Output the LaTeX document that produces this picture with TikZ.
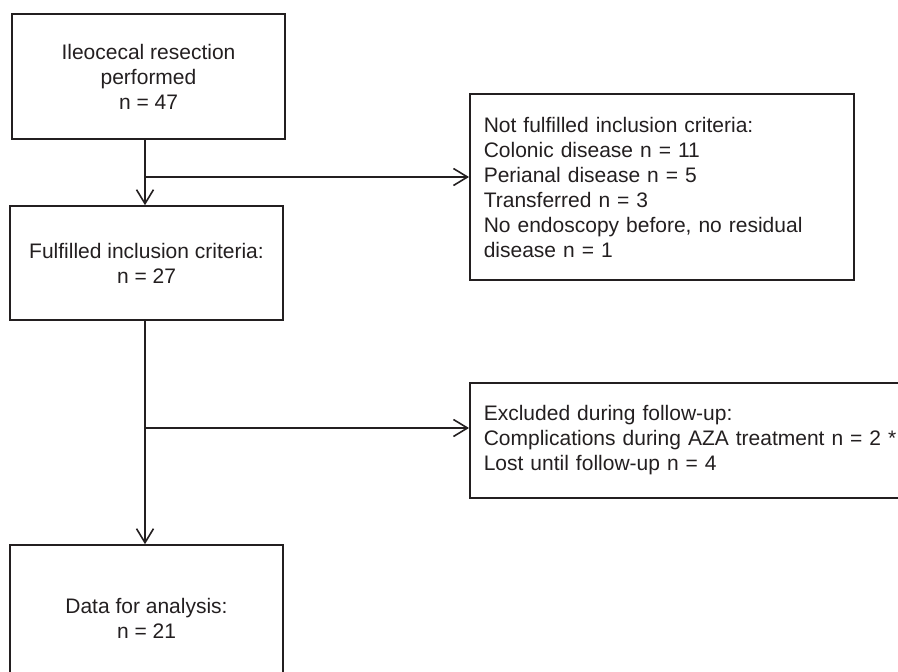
\documentclass[tikz,border=0pt]{standalone}
\usepackage{fontspec}
\setmainfont{Liberation Sans}
\usetikzlibrary{arrows.meta}
\definecolor{ink}{HTML}{231F20}
\begin{document}
\begin{tikzpicture}[x=1pt,y=-1pt,
  box/.style={draw=ink, line width=1.6pt, text=ink, font=\fontsize{21}{25}\selectfont, inner sep=0pt, align=center},
  lbox/.style={draw=ink, line width=1.6pt, text=ink, font=\fontsize{21}{25}\selectfont, inner ysep=0pt, inner xsep=14pt, align=left, anchor=west},
  arr/.style={draw=ink, line width=1.6pt, -{Straight Barb[length=14pt,width=17pt,line width=1.6pt]}},
  ln/.style={draw=ink, line width=1.6pt}]
\useasboundingbox (0,0) rectangle (898,672);
\clip (0,0) rectangle (898,672);
\node[box, minimum width=273pt, minimum height=125pt] (b1) at (148.5,76.5) {Ileocecal resection\\performed\\n = 47};
\node[lbox, text width=356pt, minimum height=186pt] (b2) at (469,187) {Not fulfilled inclusion criteria:\\Colonic disease n = 11\\Perianal disease n = 5\\Transferred n = 3\\No endoscopy before, no residual\\disease n = 1};
\node[box, minimum width=273pt, minimum height=114pt] (b3) at (146.5,263) {Fulfilled inclusion criteria:\\n = 27};
\node[lbox, text width=450pt, minimum height=115pt] (b4) at (469,440.5) {Excluded during follow-up:\\Complications during AZA treatment n = 2 *\\Lost until follow-up n = 4};
\node[box, minimum width=273pt, minimum height=146pt] (b5) at (146.5,618) {Data for analysis:\\n = 21};
\coordinate (j1) at (145,177);
\coordinate (j2) at (145,428);
\draw[arr] (b1.south -| j1) -- (b3.north -| j1);
\draw[arr] (j1) -- (j1 -| b2.west);
\draw[arr] (b3.south -| j2) -- (b5.north -| j2);
\draw[arr] (j2) -- (j2 -| b4.west);
\end{tikzpicture}
\end{document}
